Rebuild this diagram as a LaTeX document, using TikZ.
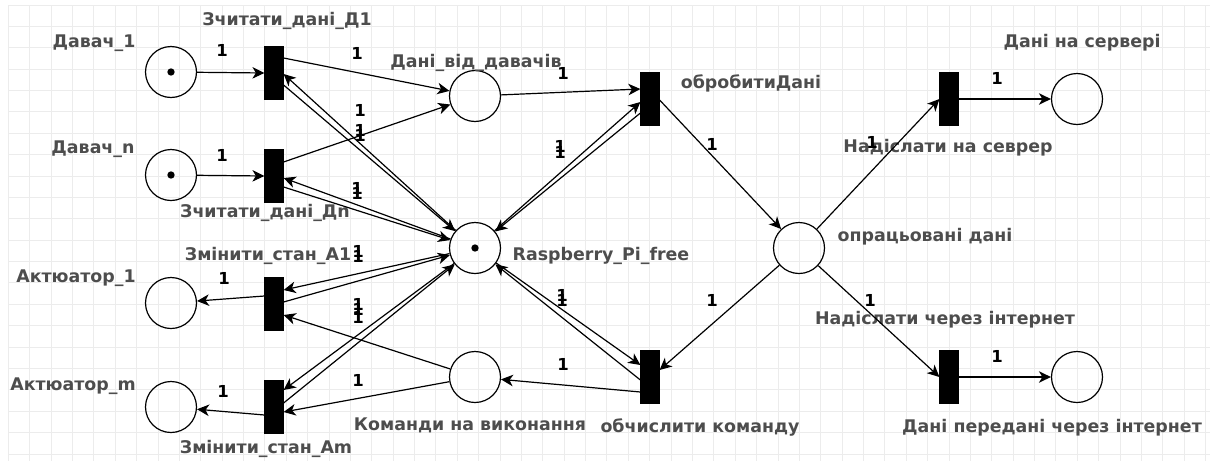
\documentclass[tikz,border=0pt]{standalone}
\usepackage{fontspec}
\setmainfont{DejaVu Sans}
\usetikzlibrary{arrows.meta,shapes,positioning,calc}

\definecolor{lblgray}{RGB}{77,77,77}
\definecolor{gridgray}{RGB}{236,236,236}

\tikzset{
  place/.style={draw,circle,line width=1.2pt,minimum size=51pt,inner sep=0pt},
  marked/.style={after node path={node[circle,fill,inner sep=2.6pt] (\tikzlastnode-tok) at (\tikzlastnode) {}}},
  trans/.style={draw,fill=black,rectangle,minimum width=18pt,minimum height=52pt,inner sep=0pt},
  lbl/.style={text=lblgray,font=\fontsize{17.4}{20}\selectfont\bfseries,inner sep=0pt,text height=12.5pt,text depth=3.5pt},
  wt/.style={font=\fontsize{16.5}{18}\selectfont\bfseries,inner sep=0pt},
  gridline/.style={draw=gridgray,line width=0.9pt}
}

\begin{document}
\begin{tikzpicture}[x=1pt,y=-1pt,>={Stealth[length=12pt,width=11.5pt,inset=3.5pt]},every path/.style={line width=1.2pt}]
\useasboundingbox (0,0) rectangle (1210,461);
% grid
\foreach \i in {0,...,56} \draw[gridline] ({8.3+21.38*\i},5) -- ({8.3+21.38*\i},461);
\foreach \j in {0,...,21} \draw[gridline] (8.3,{5+21.38*\j}) -- (1210,{5+21.38*\j});

% places
\node[place,marked] (p-d1) at (171,72) {};
\node[place,marked] (p-dn) at (171,175) {};
\node[place] (p-a1) at (171,303) {};
\node[place] (p-am) at (171,407) {};
\node[place] (p-dani) at (475,96) {};
\node[place,marked] (p-rasp) at (475,248) {};
\node[place] (p-kom) at (475,377) {};
\node[place] (p-opr) at (799,248) {};
\node[place] (p-srv) at (1077,99) {};
\node[place] (p-int) at (1077,377) {};

% transitions
\node[trans] (t-d1) at (274,73) {};
\node[trans] (t-dn) at (274,176) {};
\node[trans] (t-a1) at (274,304) {};
\node[trans] (t-am) at (274,407) {};
\node[trans] (t-obr) at (650,99) {};
\node[trans] (t-obch) at (650,377) {};
\node[trans] (t-srv) at (949,99) {};
\node[trans] (t-int) at (949,377) {};

% names
\node[lbl] (l-d1) at (94,43) {Давач\_1};
\node[lbl] (l-dn) at (93,149) {Давач\_n};
\node[lbl] (l-a1) at (76,278) {Актюатор\_1};
\node[lbl] (l-am) at (73,386) {Актюатор\_m};
\node[lbl] (l-td1) at (287,21) {Зчитати\_дані\_Д1};
\node[lbl] (l-tdn) at (265,213) {Зчитати\_дані\_Дn};
\node[lbl] (l-ta1) at (268,256) {Змінити\_стан\_А1};
\node[lbl] (l-tam) at (266,449) {Змінити\_стан\_Аm};
\node[lbl] (l-dani) at (476,63) {Дані\_від\_давачів};
\node[lbl] (l-obr) at (751,84) {обробитиДані};
\node[lbl] (l-rasp) at (601,256) {Raspberry\_Pi\_free};
\node[lbl] (l-kom) at (470,426) {Команди на виконання};
\node[lbl] (l-obch) at (700,428) {обчислити команду};
\node[lbl] (l-opr) at (925,237) {опрацьовані дані};
\node[lbl] (l-tsrv) at (948,148) {Надіслати на севрер};
\node[lbl] (l-srv) at (1082,43) {Дані на сервері};
\node[lbl] (l-tint) at (945,320) {Надіслати через інтернет};
\node[lbl] (l-int) at (1052,428) {Дані передані через інтернет};

% arcs of the sensors
\draw[->] (p-d1) -- (t-d1.west);
\draw[->] (p-dn) -- (t-dn.west);
\draw[->] ($(t-d1.east)+(0,-15)$) -- (p-dani);
\draw[->] ($(t-dn.east)+(0,-14)$) -- (p-dani);
\draw[->] (p-rasp) -- ($(t-d1.east)+(0,1)$);
\draw[->] ($(t-d1.east)+(0,12)$) -- (p-rasp);
\draw[->] (p-rasp) -- ($(t-dn.east)+(0,2)$);
\draw[->] ($(t-dn.east)+(0,11)$) -- (p-rasp);
% arcs of the actuators
\draw[->] ($(t-a1.west)+(0,-8)$) -- (p-a1);
\draw[->] ($(t-am.west)+(0,8)$) -- (p-am);
\draw[->] (p-rasp) -- ($(t-a1.east)+(0,-14)$);
\draw[->] ($(t-a1.east)+(0,-2)$) -- (p-rasp);
\draw[->] (p-kom) -- ($(t-a1.east)+(0,11)$);
\draw[->] (p-rasp) -- ($(t-am.east)+(0,-17)$);
\draw[->] ($(t-am.east)+(0,-4)$) -- (p-rasp);
\draw[->] (p-kom) -- ($(t-am.east)+(0,5)$);
% processing
\draw[->] (p-dani) -- ($(t-obr.west)+(0,-10)$);
\draw[->] (p-rasp) -- ($(t-obr.west)+(0,3)$);
\draw[->] ($(t-obr.west)+(0,14)$) -- (p-rasp);
\draw[->] ($(t-obr.east)+(0,1)$) -- (p-opr);
\draw[->] (p-rasp) -- ($(t-obch.west)+(0,-12)$);
\draw[->] ($(t-obch.west)+(0,3)$) -- (p-rasp);
\draw[->] ($(t-obch.west)+(0,15)$) -- (p-kom);
\draw[->] (p-opr) -- ($(t-obch.east)+(0,-7)$);
% sending
\draw[->] (p-opr) -- (t-srv.west);
\draw[->] (t-srv.east) -- (p-srv);
\draw[->] (p-opr) -- (t-int.west);
\draw[->] (t-int.east) -- (p-int);

% weights
\foreach \x/\y [count=\k] in {222/50, 222/155, 357/53, 360/110, 360/130, 360/135,
    357/188, 357/193, 358/251, 358/256, 358/304, 358/309, 358/317, 358/380,
    224/278, 223/391, 563/73, 560/146, 560/152, 712/144, 562/295, 562/300,
    563/364, 712/300, 872/142, 870/300, 997/78, 997/356}
  \node[wt] (w\k) at (\x,\y) {1};
\end{tikzpicture}
\end{document}
